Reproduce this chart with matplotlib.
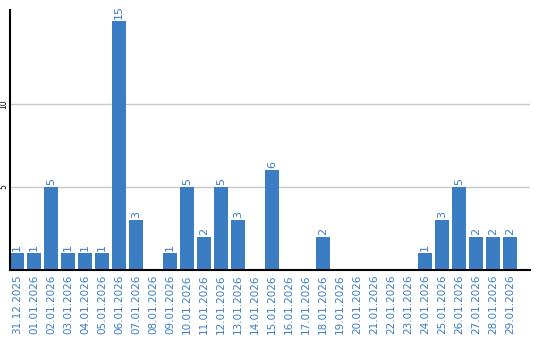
import matplotlib
matplotlib.use("Agg")
import matplotlib.pyplot as plt
import numpy as np

dates = ["31.12.2025"] + ["%02d.01.2026" % d for d in range(1, 30)]
counts = [1, 1, 5, 1, 1, 1, 15, 3, 0, 1,
          5, 2, 5, 3, 0, 6, 0, 0, 2, 0,
          0, 0, 0, 0, 1, 3, 5, 2, 2, 2]

blue = "#3b7dc3"

fig = plt.figure(figsize=(5.4, 3.4), dpi=100)
ax = fig.add_axes([10 / 540, 70 / 340, 520 / 540, 260 / 340])

x = np.arange(len(dates))
ax.bar(x, counts, width=14 / 17, color=blue, zorder=2)

for xi, c in zip(x, counts):
    if c > 0:
        ax.text(xi, c + 0.12, str(c), rotation=90, ha="center", va="bottom",
                fontsize=8, color=blue)

ax.set_xlim(-7 / 17, 30.18)
ax.set_ylim(0, 15.65)
ax.set_yticks([5, 10])
ax.set_yticklabels(["5", "10"], rotation=90, va="center", fontsize=5.5)
ax.yaxis.grid(True, color="#c8c8c8", linewidth=1, zorder=0)
ax.tick_params(axis="y", length=0, pad=1)

ax.set_xticks(x)
ax.set_xticklabels(dates, rotation=90, fontsize=7.5, color=blue)
ax.tick_params(axis="x", length=0, pad=3)

for s in ["top", "right"]:
    ax.spines[s].set_visible(False)
ax.spines["left"].set_linewidth(1.5)
ax.spines["bottom"].set_linewidth(1.5)

fig.savefig("out.png", dpi=100)
